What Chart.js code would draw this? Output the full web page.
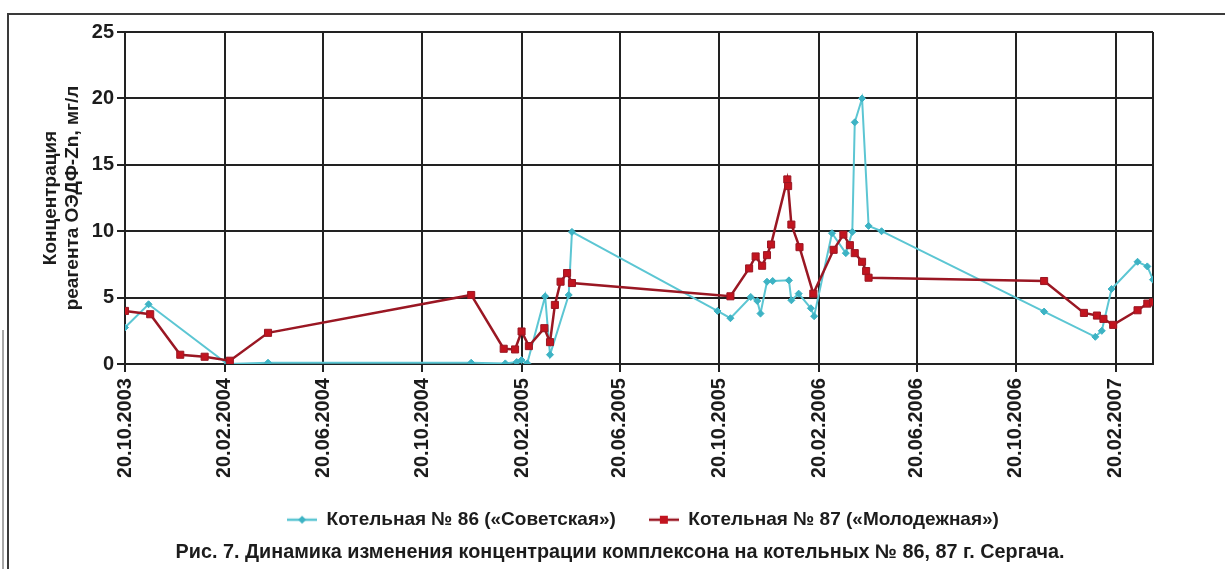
<!DOCTYPE html>
<html lang="ru">
<head>
<meta charset="utf-8">
<title>Динамика изменения концентрации комплексона</title>
<script src="https://cdn.jsdelivr.net/npm/chart.js@4.4.1/dist/chart.umd.min.js"></script>
<style>
  html, body { margin: 0; padding: 0; background: #fff; }
  #wrap { position: relative; width: 1225px; height: 569px; }
</style>
</head>
<body>
<div id="wrap"><canvas id="concChart"></canvas></div>
<script>
// dates of the grid lines on the time axis
var tickDates = ["20.10.2003", "20.02.2004", "20.06.2004", "20.10.2004", "20.02.2005", "20.06.2005",
  "20.10.2005", "20.02.2006", "20.06.2006", "20.10.2006", "20.02.2007"];
var axisEnd = "07.04.2007";
var yTicks = [0, 5, 10, 15, 20, 25];

// boiler house No 86
var dates86 = ["20.10.2003", "18.11.2003", "23.02.2004", "13.04.2004", "19.12.2004", "30.01.2005",
  "13.02.2005", "19.02.2005", "26.02.2005", "20.03.2005", "26.03.2005", "18.04.2005", "22.04.2005",
  "18.10.2005", "03.11.2005", "28.11.2005", "06.12.2005", "10.12.2005", "18.12.2005", "25.12.2005",
  "14.01.2006", "17.01.2006", "26.01.2006", "10.02.2006", "14.02.2006", "08.03.2006", "25.03.2006",
  "02.04.2006", "05.04.2006", "14.04.2006", "22.04.2006", "08.05.2006", "24.11.2006", "26.01.2007",
  "03.02.2007", "15.02.2007", "19.03.2007", "31.03.2007", "07.04.2007"];
var values86 = [2.75, 4.5, 0.0, 0.1, 0.1, 0.05,
  0.15, 0.3, 0.05, 5.1, 0.7, 5.2, 9.95,
  4.0, 3.45, 5.05, 4.75, 3.8, 6.2, 6.25,
  6.3, 4.8, 5.3, 4.2, 3.6, 9.85, 8.35,
  9.95, 18.2, 20.0, 10.4, 10.0, 3.95, 2.05,
  2.5, 5.65, 7.7, 7.35, 6.35];

// boiler house No 87
var dates87 = ["20.10.2003", "20.11.2003", "27.12.2003", "26.01.2004", "26.02.2004", "13.04.2004",
  "19.12.2004", "28.01.2005", "11.02.2005", "19.02.2005", "28.02.2005", "19.03.2005", "26.03.2005",
  "01.04.2005", "08.04.2005", "16.04.2005", "22.04.2005", "03.11.2005", "26.11.2005", "04.12.2005",
  "12.12.2005", "18.12.2005", "23.12.2005", "12.01.2006", "13.01.2006", "17.01.2006", "27.01.2006",
  "13.02.2006", "10.03.2006", "22.03.2006", "30.03.2006", "05.04.2006", "14.04.2006", "19.04.2006",
  "22.04.2006", "24.11.2006", "12.01.2007", "28.01.2007", "05.02.2007", "17.02.2007", "19.03.2007",
  "31.03.2007", "07.04.2007"];
var values87 = [4.0, 3.75, 0.7, 0.55, 0.25, 2.35,
  5.2, 1.15, 1.1, 2.45, 1.35, 2.7, 1.65,
  4.45, 6.2, 6.85, 6.1, 5.1, 7.2, 8.1,
  7.4, 8.2, 9.0, 13.9, 13.4, 10.5, 8.8,
  5.3, 8.6, 9.75, 8.95, 8.35, 7.7, 7.0,
  6.5, 6.25, 3.85, 3.65, 3.4, 2.95, 4.05,
  4.55, 4.65];

var FONT = '"Liberation Sans", Arial, sans-serif';
var TEXT = "#1c1c1c";
var GRID = "#222";
var cyanLine = "#5cc6d3", cyanDot = "#3db3c4";
var redLine = "#9a1723", redDot = "#c2141f";

// days since the first grid date
function dayOf(s) {
  var p = s.split(".");
  var base = Date.UTC(2003, 9, 20);
  return Math.round((Date.UTC(+p[2], +p[1] - 1, +p[0]) - base) / 86400000);
}

function points(dates, values) {
  return dates.map(function (d, i) {
    return { x: dayOf(d), y: values[i] };
  });
}

var tickDays = tickDates.map(dayOf);
var endDay = dayOf(axisEnd);

// little line+marker glyph for the legend
function legendMark(line, dot, square) {
  var c = document.createElement("canvas");
  c.width = 30;
  c.height = 14;
  var g = c.getContext("2d");
  g.strokeStyle = line;
  g.lineWidth = 2.5;
  g.beginPath();
  g.moveTo(0, 7);
  g.lineTo(30, 7);
  g.stroke();
  g.fillStyle = dot;
  if (square) {
    g.fillRect(11, 3, 8, 8);
  } else {
    g.beginPath();
    g.moveTo(15, 3);
    g.lineTo(19, 7);
    g.lineTo(15, 11);
    g.lineTo(11, 7);
    g.closePath();
    g.fill();
  }
  return c;
}
var legendMarks = [legendMark(cyanLine, cyanDot, false), legendMark(redLine, redDot, true)];

// white page with the figure frame
var pageFrame = {
  id: "pageFrame",
  beforeDraw: function (chart) {
    var ctx = chart.ctx;
    ctx.save();
    ctx.fillStyle = "#fff";
    ctx.fillRect(0, 0, chart.width, chart.height);
    ctx.strokeStyle = "#3a3a3a";
    ctx.lineWidth = 2;
    ctx.beginPath();
    ctx.moveTo(8, chart.height);
    ctx.lineTo(8, 14);
    ctx.lineTo(chart.width, 14);
    ctx.stroke();
    ctx.strokeStyle = "#8a8a8a";
    ctx.lineWidth = 1.5;
    ctx.beginPath();
    ctx.moveTo(3, 330);
    ctx.lineTo(3, chart.height);
    ctx.stroke();
    ctx.restore();
  },
};

// legend and caption sit a bit right of the canvas centre
var centreBlocks = {
  id: "centreBlocks",
  afterLayout: function (chart) {
    var lg = chart.legend, tb = chart.titleBlock;
    var d1 = 643 - (lg.left + lg.right) / 2;
    lg.left += d1;
    lg.right += d1;
    var d2 = 620 - (tb.left + tb.right) / 2;
    tb.left += d2;
    tb.right += d2;
  },
};

window.addEventListener("load", function () {
  var el = document.getElementById("concChart");
  new Chart(el, {
    type: "line",
    data: {
      datasets: [
        {
          label: "Котельная № 86 («Советская»)",
          data: points(dates86, values86),
          borderColor: cyanLine,
          borderWidth: 2,
          pointStyle: "rectRot",
          pointRadius: 3.5,
          pointBackgroundColor: cyanDot,
          pointBorderColor: cyanDot,
          pointBorderWidth: 1,
          tension: 0,
          order: 1,
        },
        {
          label: "Котельная № 87 («Молодежная»)",
          data: points(dates87, values87),
          borderColor: redLine,
          borderWidth: 2.5,
          pointStyle: "rect",
          pointRadius: 5,
          pointBackgroundColor: redDot,
          pointBorderColor: redLine,
          pointBorderWidth: 1,
          tension: 0,
          order: 0,
        },
      ],
    },
    options: {
      responsive: true,
      maintainAspectRatio: false,
      animation: false,
      layout: { padding: { left: 0, right: 72, top: 32, bottom: 3 } },
      font: { family: FONT },
      plugins: {
        tooltip: { enabled: false },
        legend: {
          position: "bottom",
          labels: {
            color: TEXT,
            font: { family: FONT, size: 19, weight: "bold" },
            usePointStyle: true,
            pointStyleWidth: 30,
            padding: 33,
            generateLabels: function (chart) {
              var items = Chart.defaults.plugins.legend.labels.generateLabels(chart);
              items.sort(function (a, b) {
                return a.datasetIndex - b.datasetIndex;
              });
              items.forEach(function (it) {
                it.pointStyle = legendMarks[it.datasetIndex];
              });
              return items;
            },
          },
        },
        title: {
          display: true,
          position: "bottom",
          text: "Рис. 7. Динамика изменения концентрации комплексона на котельных № 86, 87 г. Сергача.",
          color: TEXT,
          font: { family: FONT, size: 19.8, weight: "bold", lineHeight: 1.2 },
          padding: { top: 1, bottom: 2 },
        },
      },
      scales: {
        x: {
          type: "linear",
          min: 0,
          max: endDay,
          afterBuildTicks: function (s) {
            s.ticks = tickDays.concat([endDay]).map(function (v) {
              return { value: v };
            });
          },
          afterFit: function (s) {
            s.height = 113.2;
          },
          ticks: {
            autoSkip: false,
            maxRotation: 90,
            minRotation: 90,
            padding: 6,
            color: TEXT,
            font: { family: FONT, size: 20, weight: "bold" },
            callback: function (v) {
              var i = tickDays.indexOf(v);
              return i >= 0 ? tickDates[i] : "";
            },
          },
          grid: {
            color: GRID,
            lineWidth: 2,
            tickLength: 8,
            tickColor: function (c) {
              return c.tick && c.tick.value === endDay ? "rgba(0,0,0,0)" : GRID;
            },
          },
          border: { color: GRID, width: 2 },
        },
        y: {
          min: 0,
          max: 25,
          afterBuildTicks: function (s) {
            s.ticks = yTicks.map(function (v) {
              return { value: v };
            });
          },
          afterFit: function (s) {
            s.width = 125;
          },
          ticks: {
            padding: 3,
            color: TEXT,
            font: { family: FONT, size: 20, weight: "bold" },
          },
          grid: { color: GRID, lineWidth: 2, tickLength: 8 },
          border: { color: GRID, width: 2 },
          title: {
            display: true,
            text: ["Концентрация", "реагента ОЭДФ-Zn, мг/л"],
            color: TEXT,
            font: { family: FONT, size: 19, weight: "bold", lineHeight: 1.15 },
            padding: { top: 40, bottom: 0 },
          },
        },
      },
    },
    plugins: [pageFrame, centreBlocks],
  });
});
</script>
</body>
</html>
